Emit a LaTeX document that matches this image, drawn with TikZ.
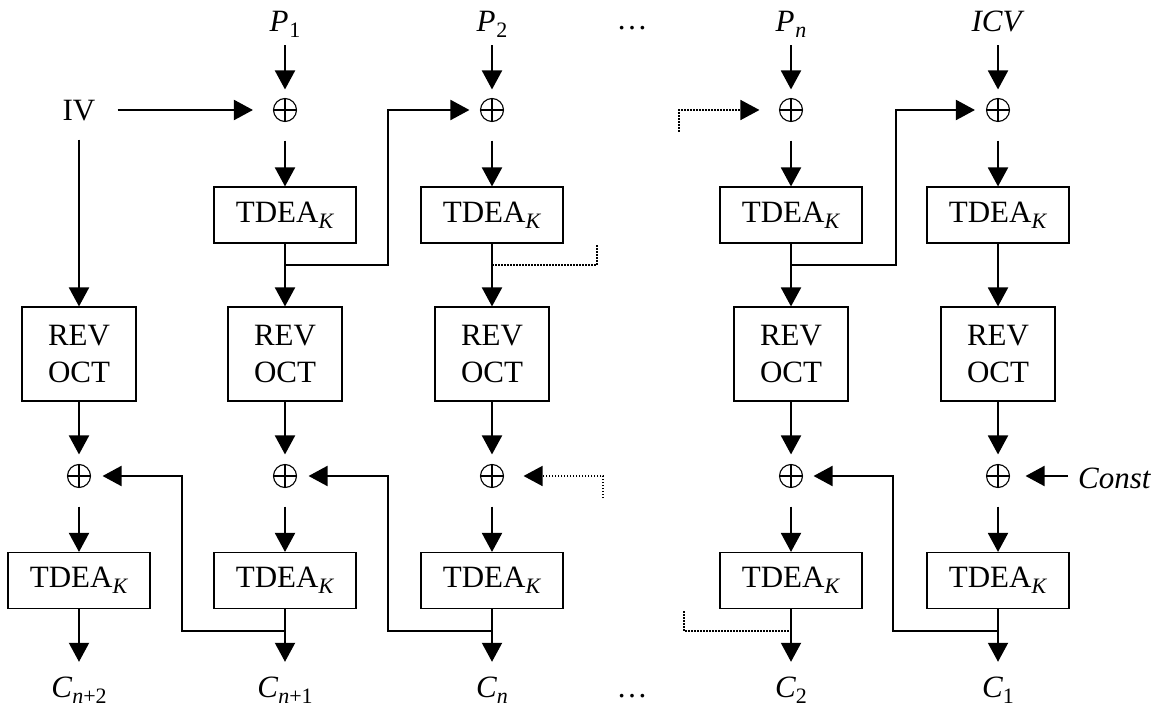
\documentclass[tikz,border=0pt]{standalone}
\usepackage{fontspec}
\setmainfont{Liberation Serif}
\usetikzlibrary{arrows.meta}
\newcommand\lo[1]{\raisebox{-6pt}{\fontsize{22}{22}\selectfont #1}}
\begin{document}
\begin{tikzpicture}[x=1pt,y=-1pt,
  font=\fontsize{31}{37}\selectfont,
  tdea/.style={draw,line width=1.1pt,minimum width=142pt,minimum height=56pt,inner sep=0pt},
  rev/.style={draw,line width=1.1pt,minimum width=114pt,minimum height=94pt,inner sep=0pt,align=center},
  xor/.style={circle,draw,line width=1.1pt,minimum size=23pt,inner sep=0pt,
    path picture={\draw[line width=1.1pt]
      (path picture bounding box.north) -- (path picture bounding box.south)
      (path picture bounding box.west) -- (path picture bounding box.east);}},
  lbl/.style={inner sep=0pt,anchor=base,text height=22pt,text depth=6pt},
  flow/.style={line width=2pt,-{Triangle[length=19pt,width=20pt]}},
  faint/.style={line width=1.6pt,dash pattern=on 1.5pt off 1.5pt},
  faintflow/.style={faint,-{Triangle[length=19pt,width=20pt]}}]
\useasboundingbox (0,0) rectangle (1156,708);

% input labels
\node[lbl] (P1) at (285,32) {\textit{P}\kern1pt\lo{1}};
\node[lbl] (P2) at (492,32) {\textit{P}\kern1pt\lo{2}};
\node[lbl] (Pn) at (791,32) {\textit{P}\kern1pt\lo{\textit{n}}};
\node[lbl] (ICV) at (998,32) {\textit{ICV}};
\node[anchor=base] (dt) at (632,30) {\dots};
\node[inner sep=0pt] (IV) at (79,111) {IV};

% first-stage XORs
\node[xor] (xt1) at (285,110) {};
\node[xor] (xt2) at (492,110) {};
\node[xor] (xt3) at (791,110) {};
\node[xor] (xt4) at (998,110) {};

% first-stage TDEA
\node[tdea] (T1) at (285,215) {TDEA\lo{\textit{K}}};
\node[tdea] (T2) at (492,215) {TDEA\lo{\textit{K}}};
\node[tdea] (T3) at (791,215) {TDEA\lo{\textit{K}}};
\node[tdea] (T4) at (998,215) {TDEA\lo{\textit{K}}};

% octet reversal
\node[rev] (R0) at (79,354) {REV\\OCT};
\node[rev] (R1) at (285,354) {REV\\OCT};
\node[rev] (R2) at (492,354) {REV\\OCT};
\node[rev] (R3) at (791,354) {REV\\OCT};
\node[rev] (R4) at (998,354) {REV\\OCT};

% second-stage XORs
\node[xor] (xb0) at (79,476) {};
\node[xor] (xb1) at (285,476) {};
\node[xor] (xb2) at (492,476) {};
\node[xor] (xb3) at (791,476) {};
\node[xor] (xb4) at (998,476) {};
\node[inner sep=0pt,anchor=base west] (Const) at (1078,488) {\textit{Const}};

% second-stage TDEA
\node[tdea] (B0) at (79,580.5) {TDEA\lo{\textit{K}}};
\node[tdea] (B1) at (285,580.5) {TDEA\lo{\textit{K}}};
\node[tdea] (B2) at (492,580.5) {TDEA\lo{\textit{K}}};
\node[tdea] (B3) at (791,580.5) {TDEA\lo{\textit{K}}};
\node[tdea] (B4) at (998,580.5) {TDEA\lo{\textit{K}}};

% outputs
\node[lbl] (C0) at (79,697) {\textit{C}\lo{\textit{n}+2}};
\node[lbl] (C1) at (285,697) {\textit{C}\lo{\textit{n}+1}};
\node[lbl] (C2) at (492,697) {\textit{C}\lo{\textit{n}}};
\node[lbl] (C3) at (791,697) {\textit{C}\lo{2}};
\node[lbl] (C4) at (998,697) {\textit{C}\lo{1}};
\node[anchor=base] (db) at (632,697) {\dots};

% main vertical flow
\foreach \p/\a/\t/\r/\b/\bb/\c in {P1/xt1/T1/R1/xb1/B1/C1, P2/xt2/T2/R2/xb2/B2/C2,
                                     Pn/xt3/T3/R3/xb3/B3/C3, ICV/xt4/T4/R4/xb4/B4/C4}{
  \draw[flow,shorten <=7pt,shorten >=8.5pt] (\p) -- (\a);
  \draw[flow,shorten <=18.5pt] (\a) -- (\t);
  \draw[flow] (\t) -- (\r);
  \draw[flow,shorten >=9.5pt] (\r) -- (\b);
  \draw[flow,shorten <=18.5pt] (\b) -- (\bb);
  \draw[flow,shorten >=13pt] (\bb) -- (\c);
}
\draw[flow,shorten <=18pt] (IV) -- (R0);
\draw[flow,shorten >=9.5pt] (R0) -- (xb0);
\draw[flow,shorten <=18.5pt] (xb0) -- (B0);
\draw[flow,shorten >=13pt] (B0) -- (C0);

% IV into the first XOR
\draw[flow,shorten <=22pt,shorten >=20pt] (IV.east |- xt1) -- (xt1);

% chaining of first-stage outputs
\coordinate (j1) at (285,265);
\coordinate (j2) at (492,265);
\coordinate (j3) at (791,265);
\coordinate (u1) at (388,110);
\coordinate (u3) at (896,110);
\draw[flow,shorten >=10.5pt] (j1) -| (u1) -- (xt2);
\draw[flow,shorten >=11pt] (j3) -| (u3) -- (xt4);
\coordinate (e2) at (597,245);
\draw[faint] (j2) -| (e2);
\coordinate (s3) at (679,132);
\draw[faintflow,shorten >=19.5pt] (s3) |- (xt3);

% chaining of second-stage outputs
\coordinate (k1) at (285,631);
\coordinate (k2) at (492,631);
\coordinate (k3) at (791,631);
\coordinate (k4) at (998,631);
\coordinate (v1) at (182,476);
\coordinate (v2) at (388,476);
\coordinate (v4) at (893,476);
\draw[flow,shorten >=11.5pt] (k1) -| (v1) -- (xb0);
\draw[flow,shorten >=11.5pt] (k2) -| (v2) -- (xb1);
\draw[flow,shorten >=10.5pt] (k4) -| (v4) -- (xb3);
\coordinate (s2) at (603,498);
\draw[faintflow,shorten >=19.5pt] (s2) |- (xb2);
\coordinate (s4) at (684,611);
\draw[faint] (s4) |- (k3);

% constant into the last XOR
\draw[flow,shorten <=10pt,shorten >=15.5pt] (Const.west |- xb4) -- (xb4);
\end{tikzpicture}
\end{document}
